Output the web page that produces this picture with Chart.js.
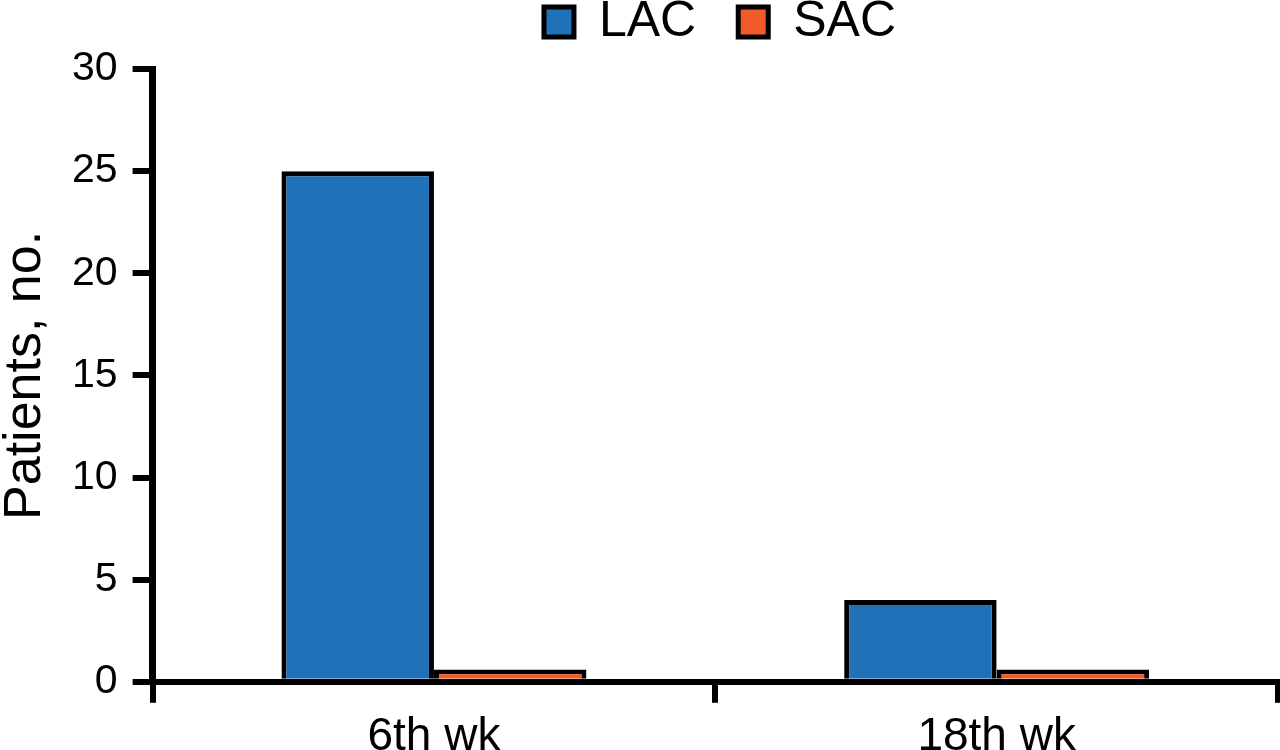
<!DOCTYPE html>
<html>
<head>
<meta charset="utf-8">
<script src="https://cdn.jsdelivr.net/npm/chart.js@4.4.0/dist/chart.umd.min.js"></script>
<style>
  html, body { margin: 0; padding: 0; background: #fff; overflow: hidden; }
  #wrap { position: absolute; left: 0; top: 0; width: 1280px; height: 772px; }
</style>
</head>
<body>
<div id="wrap"><canvas id="bar-chart"></canvas></div>
<script>
// categories and values
var labels = ['6th wk', '18th wk'];
var lacData = [25, 4];
var sacData = [0.6, 0.6];
var yTicks = [0, 5, 10, 15, 20, 25, 30];

var fontFam = '"Liberation Sans", Arial, Helvetica, sans-serif';
Chart.defaults.font.family = fontFam;
Chart.defaults.color = '#000';

// nudge the legend so it sits over the plot, close to the top edge
// (bottom is left alone so the legend's own clip box still holds the items)
var legendShift = {
    id: 'legendShift',
    afterUpdate: function (chart) {
        var lg = chart.legend;
        if (!lg) return;
        lg.left += 81;
        lg.right += 81;
        lg.top -= 45;
    }
};

var eChart = document.getElementById('bar-chart');
var myChart = new Chart(eChart, {
    type: 'bar',
    data: {
        labels: labels,
        datasets: [{
            label: 'LAC',
            data: lacData,
            backgroundColor: '#1f71b8',
            borderColor: '#000',
            borderWidth: 5,
            categoryPercentage: 0.542,
            barPercentage: 1
        }, {
            label: 'SAC',
            data: sacData,
            backgroundColor: '#f15a29',
            borderColor: '#000',
            borderWidth: 5,
            categoryPercentage: 0.542,
            barPercentage: 1
        }]
    },
    plugins: [legendShift],
    options: {
        responsive: true,
        maintainAspectRatio: false,
        animation: false,
        layout: { padding: { top: 0, right: 2, left: 0, bottom: 0 } },
        plugins: {
            tooltip: { enabled: false },
            legend: {
                display: true,
                position: 'top',
                maxHeight: 69,
                labels: {
                    boxWidth: 30,
                    boxHeight: 30,
                    padding: 42,
                    font: { size: 50 },
                    color: '#000'
                }
            }
        },
        scales: {
            x: {
                offset: true,
                grid: {
                    offset: true,
                    drawOnChartArea: false,
                    drawTicks: true,
                    tickLength: 21,
                    lineWidth: 6,
                    color: '#000'
                },
                border: { display: true, width: 6, color: '#000' },
                ticks: { font: { size: 46 }, padding: 7, color: '#000' }
            },
            y: {
                min: 0,
                max: 30,
                afterBuildTicks: function (axis) {
                    axis.ticks = yTicks.map(function (v) { return { value: v }; });
                },
                grid: {
                    drawOnChartArea: false,
                    drawTicks: true,
                    tickLength: 20,
                    lineWidth: 6,
                    color: '#000'
                },
                border: { display: true, width: 7, color: '#000' },
                ticks: { font: { size: 41 }, padding: 15, color: '#000' },
                title: {
                    display: true,
                    text: 'Patients, no.',
                    font: { size: 52, lineHeight: 1 },
                    color: '#000',
                    padding: { top: 0, bottom: 5 }
                }
            }
        }
    }
});
</script>
</body>
</html>
